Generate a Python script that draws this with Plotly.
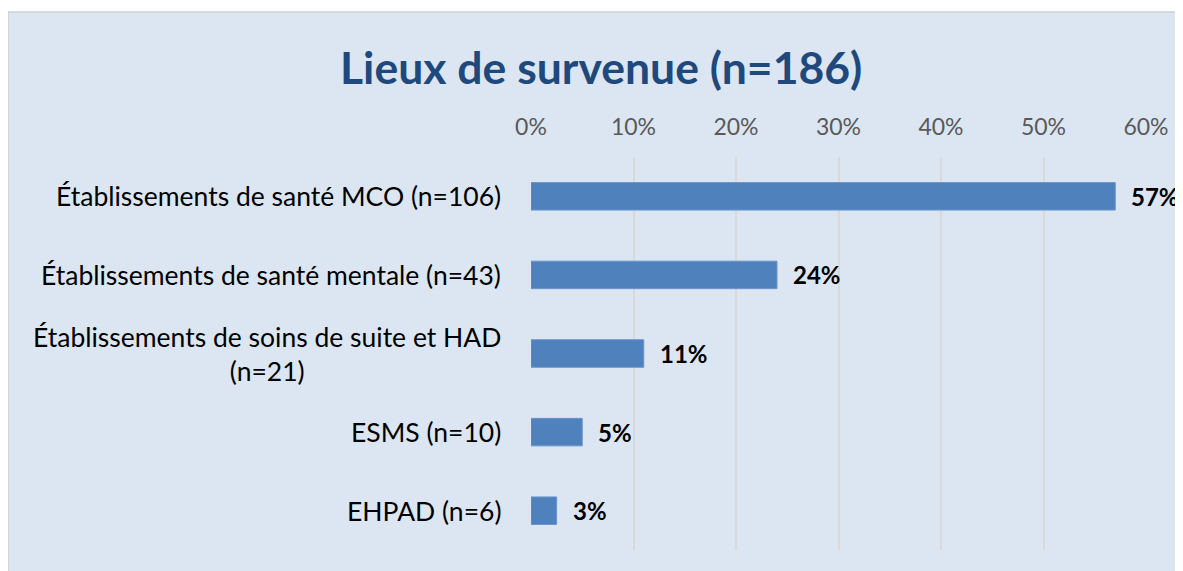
import plotly.graph_objects as go

categories = [
    "Établissements de santé MCO (n=106)",
    "Établissements de santé mentale (n=43)",
    "Établissements de soins de suite et HAD<br>(n=21)",
    "ESMS (n=10)",
    "EHPAD (n=6)",
]
values = [57, 24, 11, 5, 2.5]
value_labels = ["57%", "24%", "11%", "5%", "3%"]
tick_values = [0, 10, 20, 30, 40, 50, 60]
tick_labels = ["0%", "10%", "20%", "30%", "40%", "50%", "60%"]
title_text = "Lieux de survenue (n=186)"

FONT = "Lato"
BG = "#DCE6F2"

# figure geometry (the page body adds an 8px offset)
W, H = 1183, 563
L, T, B = 523, 149, 21
R = W - 1138
PW, PH = W - L - R, H - T - B

fig = go.Figure()
fig.add_trace(go.Bar(
    x=values, y=categories, orientation="h",
    marker=dict(color="#4F81BD", line=dict(color="#6A95CC", width=1)),
    hoverinfo="skip",
))

annotations = []
for c in categories:
    annotations.append(dict(
        x=0, xref="paper", y=c, yref="y", xanchor="right", yanchor="middle",
        xshift=-28, text=c, showarrow=False, align="center",
        font=dict(family=FONT, size=26.5, color="#000000"),
    ))
for c, v, t in zip(categories, values, value_labels):
    annotations.append(dict(
        x=v, xref="x", y=c, yref="y", xanchor="left", yanchor="middle",
        xshift=14, text="<b>" + t + "</b>", showarrow=False,
        font=dict(family=FONT, size=24, color="#000000"),
    ))
annotations.append(dict(
    x=(593 - L) / PW, xref="paper", y=1 + (T - 58) / PH, yref="paper",
    xanchor="center", yanchor="middle", showarrow=False,
    text="<b>" + title_text + "</b>",
    font=dict(family=FONT, size=44.5, color="#1F497D"),
))

fig.update_layout(
    width=W, height=H,
    margin=dict(l=L, r=R, t=T, b=B),
    paper_bgcolor="white", plot_bgcolor="rgba(0,0,0,0)",
    showlegend=False, bargap=0.65,
    annotations=annotations,
    shapes=[dict(
        type="rect", xref="paper", yref="paper", layer="below",
        x0=(0 - L) / PW, x1=3, y0=-1, y1=1 + (T - 4) / PH,
        fillcolor=BG, line=dict(color="#D0D0D0", width=1.5),
    )],
    xaxis=dict(
        side="top", range=[0, 60], tickvals=tick_values, ticktext=tick_labels,
        showgrid=True, gridcolor="#D9D9D9", gridwidth=2, zeroline=False,
        showline=False, ticks="outside", ticklen=12, tickcolor="rgba(0,0,0,0)",
        tickfont=dict(family=FONT, size=23, color="#595959"), fixedrange=True,
    ),
    yaxis=dict(
        autorange="reversed", showticklabels=False, showgrid=False,
        zeroline=False, showline=False, fixedrange=True,
    ),
)

fig.write_html("out.html")
